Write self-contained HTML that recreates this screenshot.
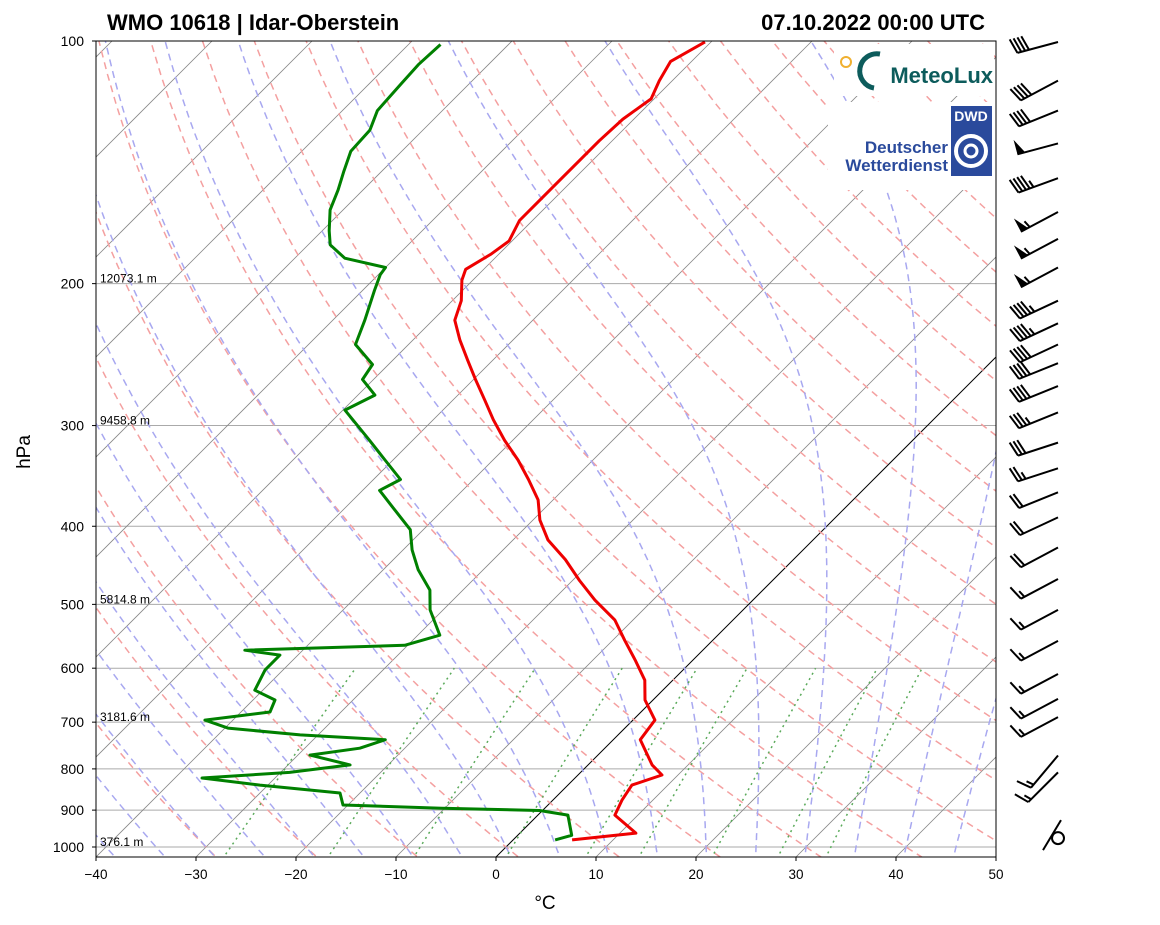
<!DOCTYPE html>
<html><head><meta charset="utf-8"><style>
body{margin:0;background:#fff;}
svg{display:block;font-family:"Liberation Sans",sans-serif;}
</style></head><body>
<svg id="chart" width="1160" height="925" xmlns="http://www.w3.org/2000/svg">
<defs><clipPath id="clip"><rect x="96" y="41" width="900" height="816"/></clipPath></defs>
<rect width="1160" height="925" fill="#fff"/>
<g id="bg" clip-path="url(#clip)"></g>
<g id="logos">
  <rect x="834" y="44" width="160" height="52" fill="#fff"/>
  <circle cx="846" cy="62" r="5" fill="none" stroke="#f0b030" stroke-width="2"/>
  <path d="M 880 54 A 17 17 0 1 0 874 88" fill="none" stroke="#0d5c5c" stroke-width="5"/>
  <text x="993" y="83" text-anchor="end" font-size="22" font-weight="bold" fill="#0d5c5c">MeteoLux</text>
  <rect x="828" y="102" width="168" height="88" fill="#fff"/>
  <rect x="951" y="106" width="41" height="70" fill="#2a4a9c"/>
  <text x="971" y="121" text-anchor="middle" font-size="14" font-weight="bold" fill="#fff">DWD</text>
  <circle cx="971" cy="151" r="15" fill="none" stroke="#fff" stroke-width="4"/>
  <circle cx="971" cy="151" r="6" fill="none" stroke="#fff" stroke-width="3"/>
  <text x="948" y="153" text-anchor="end" font-size="17" font-weight="bold" fill="#2a4a9c">Deutscher</text>
  <text x="948" y="171" text-anchor="end" font-size="17" font-weight="bold" fill="#2a4a9c">Wetterdienst</text>
</g>
<g id="data" clip-path="url(#clip)"></g>
<rect x="96" y="41" width="900" height="816" fill="none" stroke="#000" stroke-width="1"/>
<g id="axes"></g>
<g id="barbs"></g>
<text x="107" y="30" font-size="22" font-weight="bold">WMO 10618 | Idar-Oberstein</text>
<text x="985" y="30" font-size="22" font-weight="bold" text-anchor="end">07.10.2022 00:00 UTC</text>
<text x="545" y="909" font-size="19" text-anchor="middle">°C</text>
<text x="30" y="452" font-size="19" text-anchor="middle" transform="rotate(-90 30 452)">hPa</text>
</svg>
<script>
const tempP = [980,961,913,874,838,814,791,736,696,657,621,586,554,523,494,467,440,416,393,371,350,331,313,295,279,263,249,235,222,210,198,192,184,177,167,158,149,140,133,125,118,112,106,100.3];
const tempT = [5.9,11.6,7.7,6.9,6.4,8.4,6.4,2.7,2.2,-0.8,-2.8,-5.8,-8.8,-11.8,-15.8,-19.3,-22.8,-26.5,-29.3,-31.5,-34.5,-37.5,-40.8,-44,-46.8,-49.8,-52.5,-55.3,-57.8,-59.1,-61.1,-61.8,-60.8,-60.3,-61.3,-61.3,-61.3,-61.3,-61.3,-61.1,-60.3,-61.3,-62.1,-60.6];
const dewP = [980,967,913,901,895,887,857,838,821,808,791,769,754,736,726,712,696,680,657,639,603,578,570,562,546,508,480,453,428,404,382,361,350,331,313,287,275,263,252,238,222,204,195,191,186,179,172,162,153,145,137,129,122,113,107,101];
const dewT = [4.2,5.4,3.0,-0.3,-10.3,-20.5,-22,-30.8,-37.3,-29.1,-23.8,-28.8,-24.5,-22.8,-31.8,-39.7,-42.8,-37.1,-37.8,-40.8,-41.8,-41.8,-45.8,-30.3,-27.8,-31.3,-33.3,-36.5,-39.1,-41.3,-44.8,-48.3,-47.3,-50.8,-54.3,-59.8,-58.3,-61.1,-61.6,-65.3,-66.8,-68.8,-69.8,-70,-75,-77.8,-79.3,-81.3,-82.5,-83.8,-85.1,-85.3,-86.5,-86.8,-87,-86.8];
const pTicks = [100,200,300,400,500,600,700,800,900,1000];
const tTicks = [-40,-30,-20,-10,0,10,20,30,40,50];
const heightP = [200,300,500,700,1000];
const heightLabels = ['12073.1 m','9458.8 m','5814.8 m','3181.6 m','376.1 m'];
const barbP = [100,112,122,134,148,163,176,191,210,224,238,251,268,289,315,339,363,390,425,465,508,555,610,655,690,770,808,975];
const barbSpd = [40,40,40,50,45,55,55,55,45,45,40,40,40,35,30,25,20,20,20,15,15,15,15,15,15,15,15,0];
const barbAng = [15,28,22,15,20,28,28,28,25,25,25,22,22,22,18,18,22,25,28,28,28,28,28,28,28,50,45,62];

const NS='http://www.w3.org/2000/svg';
const yOf = p => 41 + 806*Math.log10(p/100);
const xOf = (T,p) => 96 + (T+40)*10 + (857 - yOf(p));
function mk(tag, attrs, parent){const e=document.createElementNS(NS,tag);for(const k in attrs)e.setAttribute(k,attrs[k]);parent.appendChild(e);return e;}
const bg=document.getElementById('bg'), dg=document.getElementById('data'), ax=document.getElementById('axes'), bb=document.getElementById('barbs');
function pathFrom(ps,ts){return ps.map((p,i)=>(i?'L':'M')+xOf(ts[i],p).toFixed(1)+' '+yOf(p).toFixed(1)).join(' ');}
const pressures=[];for(let p=1050;p>=100;p-=10)pressures.push(p);

pTicks.forEach(p=>{if(p===100)return;const l=mk('line',{x1:96,x2:996,y1:yOf(p),y2:yOf(p),stroke:'#aaa','stroke-width':1},bg);

});
for(let T=-120;T<=50;T+=10){const l=mk('line',{x1:xOf(T,1050),y1:yOf(1050),x2:xOf(T,100),y2:yOf(100),stroke:T===0?'#000':'#888','stroke-width':T===0?1:0.8},bg);

}
for(let t0=-30;t0<=200;t0+=10){const ts=pressures.map(p=>(t0+273.15)*Math.pow(p/1000,0.2857)-273.15);
const e=mk('path',{d:pathFrom(pressures,ts),fill:'none',stroke:'#f4a0a0','stroke-width':1.5,'stroke-dasharray':'7 5'},bg);

}
function es(Tc){return 6.112*Math.exp(17.67*Tc/(Tc+243.5));}
function dTdp(T,p){const Tc=T-273.15;const e=es(Tc);const rs=0.622*e/(p-e);const Rd=287,Lv=2.5e6,cp=1005;
return (Rd*T+Lv*rs)/(p*(cp+Lv*Lv*rs*0.622/(Rd*T*T)));}
for(let t0=-40;t0<=45;t0+=5){let T=t0+273.15;const ps=[],ts=[];
for(let p=1000;p>=100;p-=5){ps.push(p);ts.push(T-273.15);T-=dTdp(T,p)*5;}
let T2=t0+273.15;ps.unshift(1050);ts.unshift(T2+dTdp(T2,1000)*50-273.15);
const e=mk('path',{d:pathFrom(ps,ts),fill:'none',stroke:'#a8a8f0','stroke-width':1.5,'stroke-dasharray':'7 5'},bg);

}
[0.0004,0.001,0.002,0.004,0.007,0.01,0.016,0.024,0.032].forEach(w=>{const ps=[],ts=[];
for(let p=1050;p>=600;p-=10){const e=p*w/(0.622+w);const l=Math.log(e/6.112);ps.push(p);ts.push(243.5*l/(17.67-l));}
const e=mk('path',{d:pathFrom(ps,ts),fill:'none',stroke:'#5aaa5a','stroke-width':1.5,'stroke-dasharray':'2 4'},bg);

});
const tp=mk('path',{d:pathFrom(tempP,tempT),fill:'none',stroke:'#e00','stroke-width':3,'stroke-linejoin':'round'},dg);


const dp=mk('path',{d:pathFrom(dewP,dewT),fill:'none',stroke:'#008000','stroke-width':3,'stroke-linejoin':'round'},dg);


pTicks.forEach(p=>{const y=yOf(p);const t=mk('line',{x1:92,x2:96,y1:y,y2:y,stroke:'#000'},ax);


const tx=mk('text',{x:84,y:y+5,'font-size':14,'text-anchor':'end'},ax);tx.textContent=p;

});
tTicks.forEach(T=>{const x=96+(T+40)*10;const t=mk('line',{x1:x,x2:x,y1:857,y2:861,stroke:'#000'},ax);


const tx=mk('text',{x:x,y:879,'font-size':13.5,'text-anchor':'middle'},ax);tx.textContent=T<0?'\u2212'+(-T):T;

});
heightP.forEach((p,i)=>{const tx=mk('text',{x:100,y:yOf(p)-1,'font-size':12},ax);tx.textContent=heightLabels[i];

});
barbP.forEach((p,i)=>{const g=mk('g',{},bb);


let y=yOf(p);if(p===100)y=42;const ox=1058,oy=y;const s=barbSpd[i];
if(s===0){mk('circle',{cx:ox,cy:oy,r:6,fill:'none',stroke:'#000','stroke-width':2},g);mk('line',{x1:ox-15,y1:oy+12,x2:ox+3,y2:oy-18,stroke:'#000','stroke-width':2},g);return;}
const a=barbAng[i]*Math.PI/180,L=42;const dx=-Math.cos(a),dy=Math.sin(a);const ex=ox+dx*L,ey=oy+dy*L;
mk('line',{x1:ox,y1:oy,x2:ex,y2:ey,stroke:'#000','stroke-width':2},g);
const px=-dy,py=dx;
let rem=s,pos=0;const bl=15;
function pt(d){return [ex-dx*d,ey-dy*d];}
while(rem>=50){const [x1,y1]=pt(pos),[x2,y2]=pt(pos+8);mk('polygon',{points:`${x1},${y1} ${x2},${y2} ${x1+px*bl},${y1+py*bl}`,fill:'#000'},g);pos+=10;rem-=50;}
while(rem>=10){const [x1,y1]=pt(pos);mk('line',{x1:x1,y1:y1,x2:x1+px*bl+dx*4,y2:y1+py*bl+dy*4,stroke:'#000','stroke-width':2},g);pos+=4;rem-=10;}
if(rem>=5){if(pos===0)pos=5;const [x1,y1]=pt(pos);mk('line',{x1:x1,y1:y1,x2:x1+px*bl/2+dx*2,y2:y1+py*bl/2+dy*2,stroke:'#000','stroke-width':2},g);}
});
</script>
</body></html>
